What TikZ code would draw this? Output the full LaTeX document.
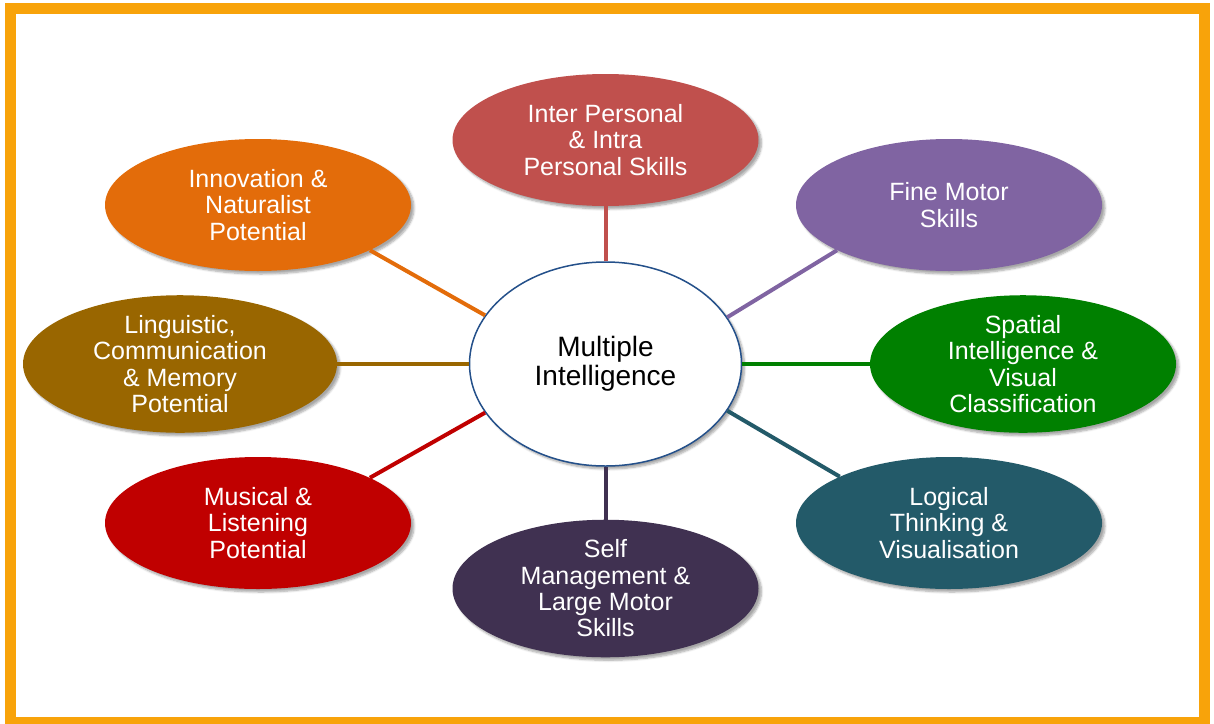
\documentclass[tikz,border=0pt]{standalone}
\usepackage{fontspec}
\setmainfont{Liberation Sans}
\usetikzlibrary{shapes.geometric,shadows.blur}
\definecolor{frameorange}{HTML}{F8A30A}
\definecolor{midblue}{HTML}{24508A}
\definecolor{interred}{HTML}{C0504D}
\definecolor{finepurple}{HTML}{8064A2}
\definecolor{spatialgreen}{HTML}{008000}
\definecolor{logicteal}{HTML}{235A69}
\definecolor{selfplum}{HTML}{403151}
\definecolor{musicred}{HTML}{C00000}
\definecolor{lingbrown}{HTML}{996600}
\definecolor{innoorange}{HTML}{E36C0A}
\tikzstyle{skill}=[ellipse, inner sep=0pt, minimum width=306pt, minimum height=132pt,
    text=white, align=center, font=\fontsize{25}{26.3}\selectfont,
    blur shadow={shadow xshift=3pt, shadow yshift=-3pt, shadow opacity=35, shadow blur steps=6}]
\newcommand{\skill}{\node[skill]}

\begin{document}
\begin{tikzpicture}[x=1pt, y=-1pt
    ,every edge/.style={draw, line width=4pt}
]
\useasboundingbox (0,0) rectangle (1214,723);
\draw[frameorange, line width=11pt] (10.5,8) rectangle (1204.5,722.5);

\node[ellipse, draw=midblue, line width=1.5pt, fill=white, inner sep=0pt,
    minimum width=272pt, minimum height=204pt, align=center,
    font=\fontsize{28}{29}\selectfont,
    blur shadow={shadow xshift=3pt, shadow yshift=-3pt, shadow opacity=35, shadow blur steps=6}]
    (mi) at (605.5,364) {Multiple\\Intelligence};

\skill[fill=interred] (inter) at (605.5,140) {Inter Personal\\\& Intra\\Personal Skills};
\skill[fill=finepurple] (fine) at (949,205) {Fine Motor\\Skills};
\skill[fill=spatialgreen] (spatial) at (1023,364) {Spatial\\Intelligence \&\\Visual\\Classification};
\skill[fill=logicteal] (logic) at (949,523) {Logical\\Thinking \&\\Visualisation};
\skill[fill=selfplum] (self) at (605.5,588.5) {Self\\Management \&\\Large Motor\\Skills};
\skill[fill=musicred] (music) at (258,523) {Musical \&\\Listening\\Potential};
\skill[fill=lingbrown, minimum width=314pt] (ling) at (180,364) {Linguistic,\\Communication\\\& Memory\\Potential};
\skill[fill=innoorange] (inno) at (258,205) {Innovation \&\\Naturalist\\Potential};

\path
(mi.90) edge[interred] (inter.-90)
(mi.21.5) edge[finepurple] (fine.-158)
(mi.0) edge[spatialgreen] (spatial.180)
(mi.-21.5) edge[logicteal] (logic.157.5)
(mi.-90) edge[selfplum] (self.90)
(mi.-158.5) edge[musicred] (music.22.3)
(mi.180) edge[lingbrown] (ling.0)
(mi.158.5) edge[innoorange] (inno.-22.6)
;
\end{tikzpicture}
\end{document}
